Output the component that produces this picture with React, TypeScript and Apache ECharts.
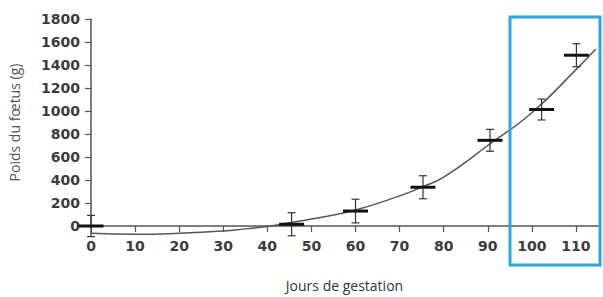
import React, { useEffect, useRef } from "react";
import * as echarts from "echarts";

// Measured points (mean weight, g) with error ranges
const days = [0, 45.5, 60, 75.3, 90.5, 102.2, 110.1];
const meanWeights = [0, 15, 130, 337, 745, 1013, 1485];
const errors = [92, 100, 103, 100, 95, 91, 100];

// Fitted curve
const curveDays = [0, 10, 20, 30, 35, 40, 45, 50, 60, 70, 75, 80, 90, 100, 110, 114.5];
const curveWeights = [-63, -72, -63, -43, -25, -5, 28, 60, 140, 262, 338, 425, 700, 985, 1360, 1540];

const xTicks = [0, 10, 20, 30, 40, 50, 60, 70, 80, 90, 100, 110];
const yTicks = [0, 200, 400, 600, 800, 1000, 1200, 1400, 1600, 1800];

export default function App() {
  const ref = useRef<HTMLDivElement>(null);
  useEffect(() => {
    document.body.style.margin = "0";
    const chart = echarts.init(ref.current!, null, { renderer: "svg" });
    const labelStyle = {
      fontFamily: "DejaVu Sans",
      fontWeight: "bold" as const,
      fontSize: 14,
      color: "#3c3c3c",
      formatter: (v: number) => String(v),
    };
    chart.setOption({
      animation: false,
      backgroundColor: "#ffffff",
      grid: {
        left: 91,
        top: 19,
        width: 507,
        height: 207,
        containLabel: false,
        outerBoundsMode: "none",
      },
      xAxis: {
        type: "value",
        min: 0,
        max: 115,
        interval: 10,
        name: "Jours de gestation",
        nameLocation: "middle",
        nameGap: 52,
        nameTextStyle: { fontFamily: "Open Sans", fontSize: 14, color: "#333" },
        axisLine: { show: true, onZero: true, lineStyle: { color: "#555", width: 1.5 } },
        axisTick: { show: true, length: 6, customValues: xTicks, lineStyle: { color: "#555", width: 1.2 } },
        axisLabel: { ...labelStyle, margin: 13, customValues: xTicks },
        splitLine: { show: false },
      },
      yAxis: {
        type: "value",
        min: 0,
        max: 1800,
        interval: 200,
        name: "Poids du fœtus (g)",
        nameLocation: "middle",
        nameRotate: 90,
        nameGap: 70,
        nameTextStyle: { fontFamily: "Open Sans", fontSize: 14, color: "#555" },
        axisLine: { show: true, lineStyle: { color: "#555", width: 1.5 } },
        axisTick: { show: true, length: 6, customValues: yTicks, lineStyle: { color: "#555", width: 1.2 } },
        axisLabel: { ...labelStyle, margin: 11, customValues: yTicks },
        splitLine: { show: false },
      },
      series: [
        {
          type: "line",
          data: curveDays.map((d, i) => [d, curveWeights[i]]),
          smooth: true,
          showSymbol: false,
          clip: false,
          lineStyle: { color: "#555", width: 1.5 },
          z: 2,
        },
        {
          type: "custom",
          clip: false,
          z: 3,
          data: days.map((d, i) => [d, meanWeights[i], errors[i]]),
          renderItem: (params: any, api: any) => {
            const x = api.value(0);
            const m = api.value(1);
            const e = api.value(2);
            const c = api.coord([x, m]);
            const top = api.coord([x, m + e]);
            const bot = api.coord([x, m - e]);
            const cap = 4;
            const half = 12.5;
            const thin = { stroke: "#333", lineWidth: 1.2 };
            return {
              type: "group",
              children: [
                { type: "line", shape: { x1: top[0], y1: top[1], x2: bot[0], y2: bot[1] }, style: thin },
                { type: "line", shape: { x1: top[0] - cap, y1: top[1], x2: top[0] + cap, y2: top[1] }, style: thin },
                { type: "line", shape: { x1: bot[0] - cap, y1: bot[1], x2: bot[0] + cap, y2: bot[1] }, style: thin },
                {
                  type: "line",
                  shape: { x1: c[0] - half, y1: c[1], x2: c[0] + half, y2: c[1] },
                  style: { stroke: "#111", lineWidth: 3 },
                },
              ],
            };
          },
        },
      ],
      graphic: [
        {
          type: "rect",
          shape: { x: 510, y: 17, width: 90, height: 248 },
          style: { fill: "none", stroke: "#2aa7e0", lineWidth: 3 },
          z: 10,
        },
      ],
    });
    return () => chart.dispose();
  }, []);
  return (
    <div
      ref={ref}
      style={{ position: "fixed", left: 0, top: 0, width: 603, height: 297 }}
    />
  );
}
